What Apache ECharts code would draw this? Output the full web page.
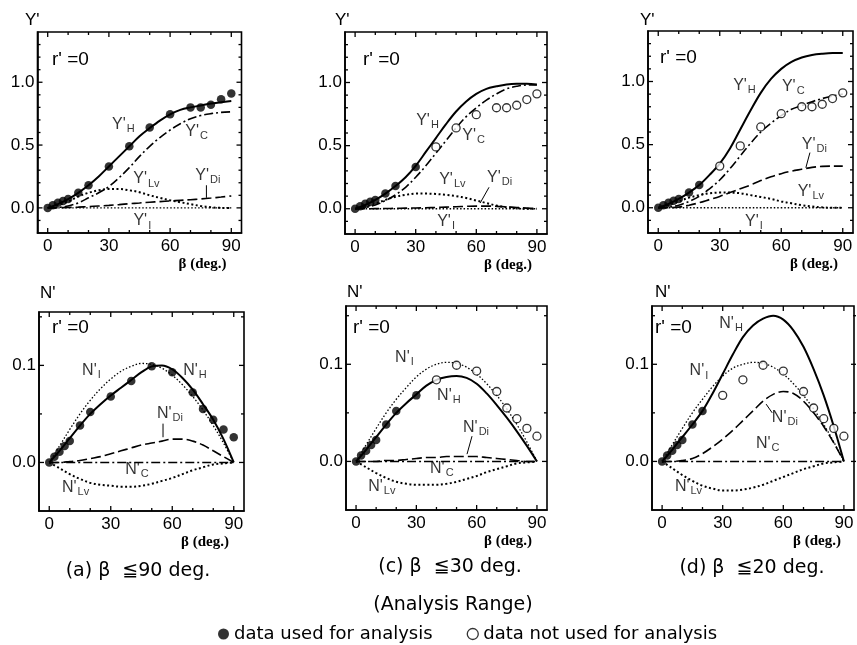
<!DOCTYPE html>
<html><head><meta charset="utf-8">
<script src="https://cdn.jsdelivr.net/npm/echarts@6/dist/echarts.min.js"></script>
<style>html,body{margin:0;padding:0;background:#fff}#c{width:857px;height:645px}</style>
</head><body><div id="c"></div>
<script>
// ---------------- DATA ----------------
const betaData = [0, 2.5, 5, 7.5, 10, 15, 20, 30, 40, 50, 60, 70, 75, 80, 85, 90];
const yPrimeData = [0, 0.02, 0.04, 0.055, 0.07, 0.12, 0.18, 0.33, 0.49, 0.64, 0.745, 0.80, 0.80, 0.82, 0.865, 0.91];
const nPrimeData = [0, 0.006, 0.011, 0.017, 0.022, 0.038, 0.052, 0.068, 0.084, 0.099, 0.093, 0.072, 0.055, 0.044, 0.034, 0.026];
const analysisLimit = [90, 30, 20];
const panelTitles = ['(a) β  ≦90 deg.', '(c) β  ≦30 deg.', '(d) β  ≦20 deg.'];

const betaCurve = [0, 5, 10, 15, 20, 25, 30, 35, 40, 45, 50, 55, 60, 65, 70, 75, 80, 85, 90];

// Y' curves
const yH_a  = [0, 0.03, 0.07, 0.12, 0.18, 0.25, 0.33, 0.41, 0.49, 0.57, 0.635, 0.695, 0.745, 0.78, 0.80, 0.815, 0.83, 0.84, 0.85];
const yC_a  = [0, 0.003, 0.015, 0.04, 0.08, 0.12, 0.17, 0.24, 0.32, 0.41, 0.49, 0.56, 0.62, 0.67, 0.71, 0.735, 0.75, 0.76, 0.765];
const yLv_a = [0, 0.02, 0.05, 0.09, 0.12, 0.14, 0.15, 0.15, 0.14, 0.125, 0.10, 0.08, 0.06, 0.045, 0.03, 0.015, 0.005, 0, 0];
const yDi_a = [0, 0.001, 0.003, 0.006, 0.01, 0.015, 0.02, 0.026, 0.033, 0.039, 0.045, 0.05, 0.055, 0.06, 0.065, 0.071, 0.078, 0.086, 0.095];
const yI_a  = [0, 0, 0, 0, 0, 0, 0, 0, 0, 0, 0, 0, 0, 0, 0, 0, 0, 0, 0];

const yH_c  = [0, 0.03, 0.07, 0.12, 0.18, 0.25, 0.34, 0.45, 0.56, 0.67, 0.77, 0.85, 0.91, 0.95, 0.97, 0.985, 0.99, 0.99, 0.985];
const yC_c  = [0, 0.01, 0.03, 0.065, 0.11, 0.17, 0.25, 0.34, 0.44, 0.54, 0.64, 0.73, 0.80, 0.86, 0.91, 0.95, 0.97, 0.98, 0.98];
const yLv_c = [0, 0.015, 0.04, 0.07, 0.095, 0.11, 0.12, 0.12, 0.117, 0.11, 0.10, 0.085, 0.065, 0.045, 0.025, 0.012, 0.004, 0, 0];
const yDi_c = [0, 0, 0.001, 0.002, 0.003, 0.005, 0.006, 0.008, 0.01, 0.013, 0.016, 0.019, 0.021, 0.021, 0.019, 0.015, 0.01, 0.005, 0];
const yI_c  = [0, 0, 0, 0, 0, 0, 0, 0, 0, 0, 0, 0, 0, 0, 0, 0, 0, 0, 0];

const yH_d  = [0, 0.03, 0.07, 0.12, 0.18, 0.26, 0.35, 0.47, 0.62, 0.77, 0.91, 1.02, 1.10, 1.155, 1.19, 1.21, 1.22, 1.225, 1.225];
const yC_d  = [0, 0.005, 0.02, 0.05, 0.09, 0.15, 0.22, 0.31, 0.41, 0.51, 0.60, 0.67, 0.73, 0.78, 0.81, 0.84, 0.865, 0.885, 0.90];
const yLv_d = [0, 0.02, 0.05, 0.08, 0.10, 0.115, 0.12, 0.12, 0.115, 0.10, 0.085, 0.07, 0.05, 0.035, 0.02, 0.01, 0.003, 0, 0];
const yDi_d = [0, 0, 0.005, 0.02, 0.04, 0.065, 0.09, 0.12, 0.15, 0.18, 0.215, 0.245, 0.27, 0.29, 0.305, 0.32, 0.328, 0.33, 0.33];
const yI_d  = [0, 0, 0, 0, 0, 0, 0, 0, 0, 0, 0, 0, 0, 0, 0, 0, 0, 0, 0];

// N' curves
const nH_a  = [0, 0.012, 0.025, 0.038, 0.05, 0.06, 0.069, 0.077, 0.085, 0.093, 0.099, 0.1, 0.096, 0.087, 0.075, 0.06, 0.044, 0.024, 0];
const nI_a  = [0, 0.017, 0.034, 0.05, 0.064, 0.076, 0.086, 0.094, 0.099, 0.102, 0.101, 0.097, 0.09, 0.08, 0.068, 0.054, 0.038, 0.02, 0];
const nDi_a = [0, 0, 0.001, 0.002, 0.004, 0.006, 0.009, 0.012, 0.015, 0.018, 0.02, 0.022, 0.024, 0.024, 0.022, 0.018, 0.012, 0.006, 0];
const nC_a  = [0, 0, 0, 0, 0, 0, 0, 0, 0, 0, 0, 0, 0, 0, 0, 0, 0, 0, 0];
const nLv_a = [0, -0.006, -0.012, -0.017, -0.021, -0.023, -0.024, -0.025, -0.025, -0.024, -0.022, -0.019, -0.016, -0.012, -0.008, -0.005, -0.002, -0.001, 0];

const nH_c  = [0, 0.012, 0.025, 0.038, 0.05, 0.06, 0.069, 0.078, 0.084, 0.087, 0.088, 0.086, 0.08, 0.07, 0.058, 0.045, 0.031, 0.016, 0];
const nI_c  = [0, 0.017, 0.034, 0.05, 0.064, 0.076, 0.087, 0.095, 0.1, 0.102, 0.101, 0.097, 0.09, 0.08, 0.068, 0.054, 0.038, 0.02, 0];
const nDi_c = [0, 0, 0, 0.001, 0.001, 0.002, 0.003, 0.004, 0.004, 0.005, 0.005, 0.005, 0.005, 0.004, 0.003, 0.002, 0.001, 0, 0];
const nC_c  = [0, 0, 0, 0, 0, 0, 0, 0, 0, 0, 0, 0, 0, 0, 0, 0, 0, 0, 0];
const nLv_c = [0, -0.006, -0.012, -0.017, -0.021, -0.023, -0.024, -0.024, -0.024, -0.023, -0.021, -0.018, -0.015, -0.011, -0.008, -0.005, -0.002, -0.001, 0];

const nH_d  = [0, 0.012, 0.025, 0.038, 0.052, 0.07, 0.09, 0.11, 0.128, 0.14, 0.147, 0.15, 0.146, 0.135, 0.118, 0.095, 0.068, 0.036, 0];
const nI_d  = [0, 0.017, 0.034, 0.05, 0.064, 0.077, 0.088, 0.096, 0.1, 0.102, 0.101, 0.097, 0.09, 0.08, 0.068, 0.054, 0.038, 0.02, 0];
const nDi_d = [0, 0, 0.001, 0.003, 0.008, 0.015, 0.023, 0.032, 0.042, 0.052, 0.062, 0.069, 0.072, 0.07, 0.062, 0.05, 0.036, 0.019, 0];
const nC_d  = [0, 0, 0, 0, 0, 0, 0, 0, 0, 0, 0, 0, 0, 0, 0, 0, 0, 0, 0];
const nLv_d = [0, -0.007, -0.014, -0.02, -0.025, -0.028, -0.03, -0.03, -0.029, -0.027, -0.024, -0.02, -0.016, -0.012, -0.008, -0.005, -0.002, -0.001, 0];

// tick values
const xTickValues = [0, 10, 20, 30, 40, 50, 60, 70, 80, 90];
const xLabelValues = [0, 30, 60, 90];
const yTickTop = [-0.1, 0, 0.1, 0.2, 0.3, 0.4, 0.5, 0.6, 0.7, 0.8, 0.9, 1.0, 1.1, 1.2, 1.3];
const yLabelTop = [0, 0.5, 1.0];
const yTickBottom = [0, 0.05, 0.1, 0.15];
const yLabelBottom = [0, 0.1];

// ---------------- LAYOUT / STYLE ----------------
const gridBoxes = [
  {left: 37.5, top: 32, width: 204, height: 201},
  {left: 345, top: 32, width: 202, height: 202},
  {left: 648, top: 31, width: 205, height: 202},
  {left: 39, top: 312, width: 205, height: 199},
  {left: 346, top: 306, width: 201, height: 204},
  {left: 652, top: 306, width: 204, height: 204}
];
const yRanges = [[-0.2, 1.4], [-0.2, 1.4], [-0.2, 1.4], [-0.05, 0.155], [-0.05, 0.16], [-0.05, 0.16]];
const yIntervals = [0.1, 0.1, 0.1, 0.05, 0.05, 0.05];

const styles = {
  H:  {type: 'solid', width: 2},
  C:  {type: [9, 3, 2, 3], width: 1.6},
  Lv: {type: [2, 2.5], width: 2},
  Di: {type: [10, 4], width: 1.6},
  I:  {type: [1.5, 2], width: 1.3}
};

const curvesY = [
  {H: yH_a, C: yC_a, Lv: yLv_a, Di: yDi_a, I: yI_a},
  {H: yH_c, C: yC_c, Lv: yLv_c, Di: yDi_c, I: yI_c},
  {H: yH_d, C: yC_d, Lv: yLv_d, Di: yDi_d, I: yI_d}
];
const curvesN = [
  {H: nH_a, C: nC_a, Lv: nLv_a, Di: nDi_a, I: nI_a},
  {H: nH_c, C: nC_c, Lv: nLv_c, Di: nDi_c, I: nI_c},
  {H: nH_d, C: nC_d, Lv: nLv_d, Di: nDi_d, I: nI_d}
];

// curve annotation positions (data coordinates)
const labelPosY = [
  [['H', 31.5, 0.66], ['C', 67.4, 0.61], ['Lv', 41.9, 0.23], ['Di', 72.3, 0.254], ['I', 42, -0.105]],
  [['H', 30.2, 0.70], ['C', 53, 0.58], ['Lv', 41.6, 0.23], ['Di', 65.3, 0.25], ['I', 40.6, -0.10]],
  [['H', 36.5, 0.97], ['C', 60.3, 0.96], ['Di', 70, 0.5], ['Lv', 68, 0.126], ['I', 42.3, -0.11]]
];
const labelPosN = [
  [['I', 16, 0.095], ['H', 65.3, 0.095], ['Di', 52.5, 0.05], ['C', 37, -0.007], ['Lv', 6.2, -0.026]],
  [['I', 19.4, 0.107], ['H', 40.3, 0.068], ['Di', 53.2, 0.035], ['C', 36.8, -0.007], ['Lv', 6, -0.026]],
  [['H', 28.3, 0.142], ['I', 13.6, 0.093], ['Di', 54.3, 0.045], ['C', 46.4, 0.018], ['Lv', 6.3, -0.026]]
];
const leaderY = [[[77.8, 0.18], [77.8, 0.08]], [[66.3, 0.17], [61.9, 0.045]], [[74, 0.437], [72, 0.317]]];
const leaderN = [[[55.5, 0.04], [55.5, 0.026]], [[57.7, 0.026], [55.2, 0.0075]], [[51.5, 0.059], [54.5, 0.05]]];

const SANS = 'Liberation Sans';
const WIDE = 'DejaVu Sans';
const USED = 'data used for analysis';
const NOTUSED = 'data not used for analysis';

// ---------------- BUILD ----------------
const grids = [], xAxes = [], yAxes = [], series = [];
const near = (v, list) => list.some(t => Math.abs(v - t) < 1e-6);

gridBoxes.forEach((g, gi) => {
  grids.push({left: g.left, top: g.top, width: g.width, height: g.height, show: true,
    borderColor: '#000', borderWidth: 1.6, backgroundColor: 'transparent'});
  const isTop = gi < 3;
  const yLabels = isTop ? yLabelTop : yLabelBottom;
  xAxes.push({gridIndex: gi, type: 'value', min: -5, max: 95, interval: 5, position: 'bottom',
    axisLine: {show: true, onZero: false, lineStyle: {color: '#000', width: 1.6}},
    splitLine: {show: false}, axisTick: {show: false},
    axisLabel: {show: true, color: '#000', fontSize: 17, fontFamily: SANS, margin: 5,
      formatter: v => near(v, xLabelValues) ? String(Math.round(v)) : ''}});
  yAxes.push({gridIndex: gi, type: 'value', min: yRanges[gi][0], max: yRanges[gi][1], interval: yIntervals[gi],
    position: 'left',
    axisLine: {show: true, onZero: false, lineStyle: {color: '#000', width: 1.6}},
    splitLine: {show: false}, axisTick: {show: false},
    axisLabel: {show: true, color: '#000', fontSize: 17, fontFamily: SANS, margin: 3,
      formatter: v => near(v, yLabels) ? v.toFixed(1) : ''}});

  const col = gi % 3;
  const curves = isTop ? curvesY[col] : curvesN[col];
  Object.keys(curves).forEach(k => {
    series.push({type: 'line', name: k, xAxisIndex: gi, yAxisIndex: gi, smooth: 0.35,
      showSymbol: false, symbol: 'none', silent: true, z: 2,
      lineStyle: Object.assign({color: '#000'}, styles[k]),
      data: betaCurve.map((b, i) => [b, curves[k][i]])});
  });
  const vals = isTop ? yPrimeData : nPrimeData;
  const lim = analysisLimit[col];
  const used = [], notUsed = [];
  betaData.forEach((b, i) => { (b <= lim ? used : notUsed).push([b, vals[i]]); });
  series.push({type: 'scatter', name: USED, xAxisIndex: gi, yAxisIndex: gi, symbol: 'circle', symbolSize: 8.5,
    z: 4, silent: true, itemStyle: {color: '#000'}, data: used});
  series.push({type: 'scatter', name: NOTUSED, xAxisIndex: gi, yAxisIndex: gi, symbol: 'circle', symbolSize: 8,
    z: 4, silent: true, itemStyle: {color: '#fff', borderColor: '#000', borderWidth: 1.3}, data: notUsed});
  const prefix = isTop ? "Y'" : "N'";
  const labs = isTop ? labelPosY[col] : labelPosN[col];
  labs.forEach(([sub, lx, ly]) => {
    series.push({type: 'scatter', name: 'lbl', xAxisIndex: gi, yAxisIndex: gi, symbolSize: 0.1, silent: true, z: 5,
      itemStyle: {color: 'transparent'},
      label: {show: true, position: 'right', distance: 0, formatter: '{m|' + prefix + '}{s|' + sub + '}',
        rich: {m: {fontSize: 16, fontFamily: SANS, color: '#000'},
               s: {fontSize: 11, fontFamily: SANS, color: '#000', padding: [9, 0, 0, 1]}}},
      data: [[lx, ly]]});
  });
  const ld = isTop ? leaderY[col] : leaderN[col];
  series.push({type: 'line', name: 'leader', xAxisIndex: gi, yAxisIndex: gi, symbol: 'none', silent: true, z: 3,
    lineStyle: {color: '#000', width: 1}, data: ld});
});

const graphic = [];
const txt = (x, y, text, size, opts) => graphic.push({type: 'text', x: x, y: y, silent: true,
  style: Object.assign({text: text, fontSize: size, fontFamily: SANS, fill: '#000'}, opts || {})});
[[25, 12, "Y'"], [335, 12, "Y'"], [640, 12, "Y'"], [40, 285, "N'"], [347, 284, "N'"], [655, 284, "N'"]]
  .forEach(a => txt(a[0], a[1], a[2], 17));
[[52, 50], [363, 50], [660, 48], [52, 318], [353, 318], [655, 318]]
  .forEach(a => txt(a[0], a[1], "r' =0", 19));
gridBoxes.forEach(g => txt(g.left + g.width - 15, g.top + g.height + 24, 'β (deg.)', 15,
  {fontFamily: 'Liberation Serif', fontWeight: 'bold', align: 'right'}));
[[138, 571], [450, 567], [752, 568]].forEach((p, i) => txt(p[0], p[1], panelTitles[i], 19,
  {fontFamily: WIDE, align: 'center', verticalAlign: 'middle'}));
txt(453, 605, '(Analysis Range)', 19, {fontFamily: WIDE, align: 'center', verticalAlign: 'middle'});

const chart = echarts.init(document.getElementById('c'), null, {renderer: 'canvas'});
chart.setOption({
  animation: false,
  backgroundColor: '#fff',
  grid: grids, xAxis: xAxes, yAxis: yAxes, series: series, graphic: graphic,
  legend: {
    data: [{name: USED, icon: 'circle', itemStyle: {color: '#000'}},
           {name: NOTUSED, icon: 'circle', itemStyle: {color: '#fff', borderColor: '#000', borderWidth: 1.3}}],
    left: 213, top: 620, itemWidth: 11, itemHeight: 11, itemGap: 34, selectedMode: false,
    textStyle: {fontSize: 18, fontFamily: WIDE, color: '#000'}
  }
});

// inward tick marks on all four sides, positioned through each axis' own scale
const tickEls = [];
const tickLine = (x1, y1, x2, y2) => tickEls.push({type: 'line', silent: true, z: 10,
  shape: {x1: x1, y1: y1, x2: x2, y2: y2}, style: {stroke: '#000', lineWidth: 1.3}});
gridBoxes.forEach((g, gi) => {
  const isTop = gi < 3;
  const xl = g.left, xr = g.left + g.width, yt = g.top, yb = g.top + g.height;
  xTickValues.forEach(v => {
    const px = chart.convertToPixel({xAxisIndex: gi}, v);
    const len = near(v, xLabelValues) ? 5 : 3;
    tickLine(px, yb, px, yb - len);
    tickLine(px, yt, px, yt + len);
  });
  const yTicks = isTop ? yTickTop : yTickBottom;
  const yLabels = isTop ? yLabelTop : yLabelBottom;
  yTicks.forEach(v => {
    const py = chart.convertToPixel({yAxisIndex: gi}, v);
    const len = near(v, yLabels) ? 5 : 3;
    tickLine(xl, py, xl + len, py);
    tickLine(xr, py, xr - len, py);
  });
});
chart.setOption({graphic: graphic.concat(tickEls)});
</script></body></html>
